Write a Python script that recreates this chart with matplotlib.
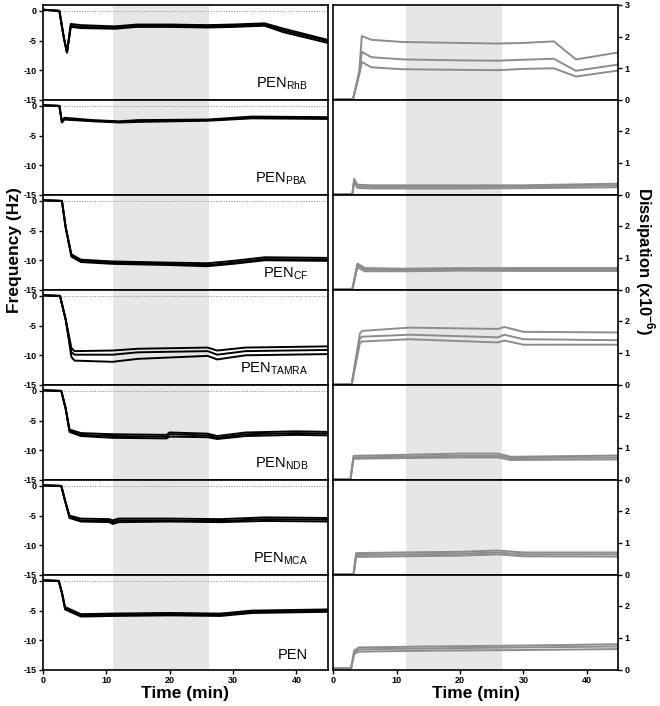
import numpy as np
import matplotlib
matplotlib.use("Agg")
import matplotlib.pyplot as plt

plt.rcParams['font.family'] = ['Liberation Sans', 'DejaVu Sans']
plt.rcParams['mathtext.fontset'] = 'custom'
plt.rcParams['mathtext.rm'] = 'Liberation Sans'
plt.rcParams['mathtext.bf'] = 'Liberation Sans:bold'
plt.rcParams['axes.unicode_minus'] = False

# Panel names (top to bottom)
labels = [r'PEN$_{\mathregular{RhB}}$', r'PEN$_{\mathregular{PBA}}$', r'PEN$_{\mathregular{CF}}$',
          r'PEN$_{\mathregular{TAMRA}}$', r'PEN$_{\mathregular{NDB}}$', r'PEN$_{\mathregular{MCA}}$', 'PEN']

# Frequency traces (Hz): knot times and three replicates per panel
freq_t = [
    [0, 2.6, 3.3, 3.8, 4.4, 6, 11, 11.5, 14.8, 20, 26, 30, 35, 38, 45],
    [0, 2.6, 3.0, 3.4, 8, 12, 15, 26, 33, 45],
    [0, 3.0, 3.6, 4.5, 6, 11, 20, 26, 30, 35, 45],
    [0, 2.7, 3.6, 4.5, 5, 11, 15, 26, 27.5, 32, 45],
    [0, 2.9, 3.6, 4.2, 6, 11, 19.5, 20, 26, 27.5, 32, 40, 45],
    [0, 2.9, 3.5, 4.2, 6, 10.5, 11, 12, 20, 28, 35, 45],
    [0, 2.5, 3.0, 3.5, 6, 11, 20, 28, 33, 45],
]
freq_v = [
    [[0.2, 0, -4.5, -7.0, -2.2, -2.4, -2.6, -2.6, -2.3, -2.3, -2.4, -2.3, -2.1, -3.0, -4.9],
     [0.2, 0, -4.5, -7.0, -2.5, -2.7, -2.8, -2.8, -2.5, -2.5, -2.6, -2.5, -2.3, -3.3, -5.1],
     [0.2, 0, -4.5, -7.0, -2.7, -2.9, -3.0, -3.0, -2.7, -2.7, -2.8, -2.7, -2.5, -3.6, -5.4]],
    [[0.1, 0, -2.6, -2.0, -2.4, -2.6, -2.4, -2.3, -1.8, -1.9],
     [0.1, 0, -2.7, -2.2, -2.5, -2.7, -2.5, -2.4, -2.0, -2.0],
     [0.1, 0, -2.8, -2.3, -2.6, -2.8, -2.7, -2.5, -2.1, -2.2]],
    [[0.1, 0, -4.5, -9.0, -9.9, -10.2, -10.4, -10.5, -10.1, -9.5, -9.6],
     [0.1, 0, -4.5, -9.2, -10.1, -10.4, -10.6, -10.8, -10.4, -9.8, -9.9],
     [0.1, 0, -4.5, -9.4, -10.3, -10.6, -10.8, -11.0, -10.6, -10.0, -10.1]],
    [[0.1, 0, -4.0, -8.8, -9.3, -9.2, -8.9, -8.7, -9.2, -8.7, -8.5],
     [0.1, 0, -4.0, -9.5, -9.9, -9.9, -9.5, -9.3, -9.9, -9.3, -9.1],
     [0.1, 0, -4.0, -10.3, -10.9, -11.1, -10.6, -10.1, -10.7, -10.0, -9.8]],
    [[0.1, 0, -3.0, -6.5, -7.1, -7.3, -7.4, -7.0, -7.2, -7.6, -7.0, -6.8, -6.9],
     [0.1, 0, -3.0, -6.7, -7.4, -7.6, -7.7, -7.3, -7.5, -7.9, -7.3, -7.1, -7.2],
     [0.1, 0, -3.0, -6.9, -7.6, -7.9, -8.0, -7.7, -7.8, -8.1, -7.6, -7.4, -7.5]],
    [[0.1, 0, -2.5, -5.0, -5.5, -5.6, -5.8, -5.5, -5.5, -5.6, -5.3, -5.4],
     [0.1, 0, -2.5, -5.2, -5.8, -5.9, -6.1, -5.8, -5.8, -5.9, -5.6, -5.7],
     [0.1, 0, -2.5, -5.4, -6.0, -6.1, -6.4, -6.1, -6.0, -6.1, -5.9, -6.0]],
    [[0.1, 0, -2.0, -4.4, -5.6, -5.5, -5.4, -5.5, -5.0, -4.8],
     [0.1, 0, -2.0, -4.6, -5.8, -5.7, -5.6, -5.7, -5.2, -5.0],
     [0.1, 0, -2.0, -4.8, -6.0, -5.9, -5.8, -5.9, -5.4, -5.2]],
]

# Dissipation traces (x10^-6)
diss_t = [
    [0, 3.1, 4.1, 4.5, 6, 11, 20, 26, 30, 34.8, 38.3, 45],
    [0, 3.0, 3.3, 3.8, 6, 20, 30, 45],
    [0, 3.0, 3.8, 5, 11, 20, 30, 45],
    [0, 2.9, 4.2, 4.6, 12, 26, 27, 30, 45],
    [0, 2.7, 3.2, 11, 20, 26, 28, 45],
    [0, 3.2, 3.6, 11, 20, 26, 30, 45],
    [0, 2.8, 3.3, 4.0, 15, 30, 45],
]
diss_v = [
    [[0.02, 0.02, 0.9, 2.02, 1.9, 1.83, 1.8, 1.78, 1.8, 1.85, 1.28, 1.5],
     [0.02, 0.02, 0.85, 1.52, 1.35, 1.28, 1.25, 1.24, 1.27, 1.3, 0.92, 1.12],
     [0.02, 0.02, 0.8, 1.2, 1.03, 0.97, 0.95, 0.94, 0.98, 1.0, 0.74, 0.93]],
    [[0.02, 0.02, 0.5, 0.32, 0.3, 0.3, 0.3, 0.35],
     [0.02, 0.02, 0.45, 0.27, 0.25, 0.25, 0.26, 0.3],
     [0.02, 0.02, 0.4, 0.22, 0.2, 0.2, 0.21, 0.24]],
    [[0.02, 0.02, 0.82, 0.68, 0.66, 0.68, 0.68, 0.68],
     [0.02, 0.02, 0.76, 0.63, 0.62, 0.64, 0.63, 0.63],
     [0.02, 0.02, 0.7, 0.58, 0.58, 0.6, 0.59, 0.59]],
    [[0.02, 0.02, 1.6, 1.68, 1.78, 1.74, 1.8, 1.65, 1.63],
     [0.02, 0.02, 1.45, 1.5, 1.56, 1.48, 1.56, 1.42, 1.39],
     [0.02, 0.02, 1.3, 1.35, 1.42, 1.32, 1.38, 1.25, 1.25]],
    [[0.02, 0.02, 0.75, 0.78, 0.82, 0.82, 0.72, 0.76],
     [0.02, 0.02, 0.7, 0.73, 0.75, 0.75, 0.68, 0.7],
     [0.02, 0.02, 0.66, 0.68, 0.7, 0.7, 0.62, 0.64]],
    [[0.02, 0.02, 0.68, 0.7, 0.72, 0.76, 0.7, 0.7],
     [0.02, 0.02, 0.62, 0.64, 0.66, 0.7, 0.64, 0.64],
     [0.02, 0.02, 0.56, 0.58, 0.6, 0.64, 0.58, 0.57]],
    [[0.05, 0.05, 0.6, 0.7, 0.73, 0.76, 0.8],
     [0.05, 0.05, 0.55, 0.64, 0.67, 0.7, 0.73],
     [0.05, 0.05, 0.5, 0.57, 0.6, 0.62, 0.65]],
]

time_ticks = [0, 10, 20, 30, 40]
shade_left = (11.1, 26.2)
shade_right = (11.5, 26.7)

fig = plt.figure(figsize=(6.6, 7.06), dpi=100)
top, bottom = 0.993, 0.051
n = len(labels)
h = (top - bottom) / n

for i in range(n):
    y0 = top - (i + 1) * h
    axl = fig.add_axes([0.065, y0, 0.432, h])
    axr = fig.add_axes([0.505, y0, 0.432, h])

    # frequency panel
    axl.axvspan(*shade_left, color='#e6e6e6', lw=0, zorder=0)
    axl.axhline(0, color='#888888', ls=':', lw=0.7, zorder=1)
    for v in freq_v[i]:
        axl.plot(freq_t[i], v, color='black', lw=1.4, zorder=2)
    axl.set_xlim(0, 45)
    axl.set_ylim(-15, 1)
    axl.set_yticks([0, -5, -10, -15])
    axl.text(0.93, 0.08, labels[i], transform=axl.transAxes, ha='right',
             va='bottom', fontsize=10.5)

    # dissipation panel
    axr.axvspan(*shade_right, color='#e6e6e6', lw=0, zorder=0)
    for v in diss_v[i]:
        axr.plot(diss_t[i], v, color='#8c8c8c', lw=1.4, zorder=2)
    axr.set_xlim(0, 45)
    axr.set_ylim(0, 2.95 if i else 3)
    axr.set_yticks([0, 1, 2, 3] if i == 0 else [0, 1, 2])
    axr.yaxis.tick_right()

    for ax in (axl, axr):
        ax.set_xticks(time_ticks)
        for s in ax.spines.values():
            s.set_linewidth(1.2)
        ax.tick_params(length=3, width=1, pad=1.5)
        for lab in ax.get_xticklabels() + ax.get_yticklabels():
            lab.set_fontsize(6.5)
            lab.set_fontweight('bold')
        if i < n - 1:
            ax.set_xticklabels([])

fig.text(0.022, 0.646, 'Frequency (Hz)', rotation=90, ha='center', va='center',
         fontsize=12.5, fontweight='bold')
fig.text(0.977, 0.63, r'Dissipation (x10$^{\mathbf{-6}}$)', rotation=-90,
         ha='center', va='center', fontsize=12, fontweight='bold')
fig.text(0.281, 0.018, 'Time (min)', ha='center', va='center', fontsize=12.5,
         fontweight='bold')
fig.text(0.721, 0.018, 'Time (min)', ha='center', va='center', fontsize=12.5,
         fontweight='bold')

fig.savefig('out.png', dpi=100, facecolor='white')
